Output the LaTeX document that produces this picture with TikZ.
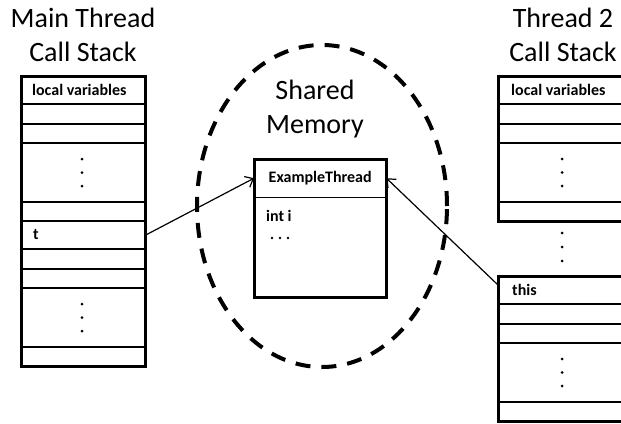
\documentclass[tikz,border=0pt]{standalone}
\usepackage{fontspec}
\setmainfont{Carlito}
\usetikzlibrary{arrows.meta,positioning}

\tikzset{
  title/.style={font=\fontsize{28}{33.5}\selectfont, align=center, inner sep=0pt},
  celltext/.style={font=\fontsize{16}{18}\selectfont\bfseries, inner sep=0pt, anchor=west},
  rowbox/.style={inner sep=0pt, anchor=north west},
  frame/.style={line width=3pt},
  rowline/.style={line width=1.4pt},
  memory/.style={line width=4pt, dash pattern=on 15pt off 11pt},
  ref/.style={line width=1.2pt, -{Straight Barb[length=7pt,width=12pt,line width=1.2pt]}}
}

\begin{document}
\begin{tikzpicture}[x=1pt,y=-1pt]
    \useasboundingbox (0,0) rectangle (621,423);
    \clip (0,0) rectangle (621,423);

    % Titles
    \node[title] (maintitle) at (83,35) {Main Thread\\Call Stack};
    \node[title] (t2title) at (563,35) {Thread 2\\Call Stack};
    \node[title] (memtitle) at (315,109) {Shared\\Memory};

    % Shared memory region
    \draw[memory] (322,206) ellipse [x radius=125pt, y radius=161pt];

    % Main thread call stack
    \draw[rowline] foreach \y in {104,124,143,202,221,249,269,288,347} {(21,\y) -- (145,\y)};
    \draw[frame] (21,76) rectangle (145,366);
    \node[celltext] (mainlocal) at (32,90) {local variables};
    \node[rowbox, minimum width=124pt, minimum height=28pt] (tcell) at (21,221) {};
    \node[celltext] (tlabel) at (33,235) {t};
    \foreach \y in {159,172.5,186,304,317.5,331}
        \fill (82,\y) circle (1.5pt);

    % Thread 2 call stack
    \draw[rowline] foreach \y in {104,124,143,202,304,324,343,402} {(498,\y) -- (640,\y)};
    \draw[frame] (640,76) -- (498,76) -- (498,221) -- (640,221);
    \draw[frame] (640,276) -- (498,276) -- (498,421) -- (640,421);
    \draw[line width=1.5pt] (499,76) -- (499,221) (499,276) -- (499,421);
    \node[celltext] (t2local) at (511,90) {local variables};
    \node[rowbox, minimum width=142pt, minimum height=28pt] (thiscell) at (498,276) {};
    \node[celltext] (thislabel) at (512,290) {this};
    \foreach \y in {159,172.5,186,233,247,261,359,372.5,386}
        \fill (562,\y) circle (1.5pt);

    % Object in shared memory
    \node[rowbox, minimum width=132pt, minimum height=38pt] (objhead) at (254,159) {};
    \node[rowbox, minimum width=132pt, minimum height=100pt, anchor=north] (objbody) at (objhead.south) {};
    \node[celltext, anchor=center] (objname) at (objhead.center) {ExampleThread};
    \draw[rowline] (objhead.south west) -- (objhead.south east);
    \draw[frame] (objhead.north west) rectangle (objbody.south east);
    \node[celltext] (field) at (266,216) {int i};
    \foreach \x in {272,280,288}
        \fill (\x,238) circle (1.3pt);

    % References
    \coordinate (thisstart) at ([yshift=-9pt]thiscell.north west);
    \draw[ref] (tcell.east) -- (objhead.west);
    \draw[ref] (thisstart) -- (objhead.east);
\end{tikzpicture}
\end{document}
